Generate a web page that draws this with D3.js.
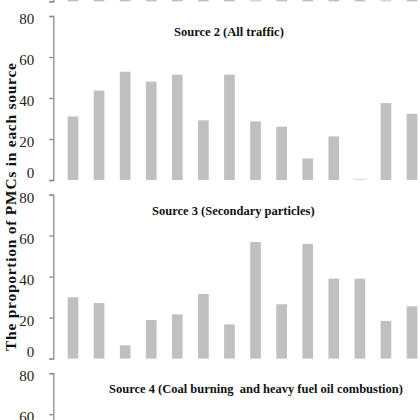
<!DOCTYPE html>
<html>
<head>
<meta charset="utf-8">
<script src="https://cdn.jsdelivr.net/npm/d3@7"></script>
<style>
  body { margin: 0; background: #fff; }
  svg { display: block; font-family: 'Liberation Serif', 'Times New Roman', serif; }
</style>
</head>
<body>
<div id="graf"></div>
<script>
// I. Data
sites = ['S1', 'S2', 'S3', 'S4', 'S5', 'S6', 'S7', 'S8', 'S9', 'S10', 'S11', 'S12', 'S13', 'S14']

// panel 1 is cut at the top of the picture, only the bar bases show
source1 = [20, 18, 22, 25, 15, 30, 24, 0.5, 28, 12, 26, 19, 0.5, 21]
source2 = [31, 43.6, 52.8, 48, 51.4, 29.1, 51.4, 28.6, 26, 10.5, 21.3, 0.3, 37.5, 32.3]
source3 = [29.9, 27.1, 6.5, 18.8, 21.6, 31.5, 16.7, 56.9, 26.5, 56, 39, 39, 18.4, 25.5]
// panel 4 is cut at the bottom, no bar reaches the visible part
source4 = []

yTicks = [0, 20, 40, 60, 80]
titles = ['', 'Source 2 (All traffic)', 'Source 3 (Secondary particles)',
          'Source 4 (Coal burning  and heavy fuel oil combustion)']
yTitle = 'The proportion of PMCs in each source'

// II. Configuración
ancho_total = 420
alto_total = 420
serif = "'Liberation Serif', 'Times New Roman', serif"
axisX = 53.3
panelH = 164
pitch = 178.6
firstTop = 16 - pitch
titleX = [0, 174, 152, 109]

svg = d3.select('#graf').append('svg')
        .attr('width', ancho_total)
        .attr('height', alto_total)

x = d3.scaleBand()
      .domain(sites)
      .range([axisX, 431.7])
      .paddingInner(0.59)
      .paddingOuter(0.55)

// III. Paneles
panels = [source1, source2, source3, source4]

panels.forEach((vals, i) => {
  const panelTop = firstTop + i * pitch
  const y = d3.scaleLinear().domain([0, 80]).range([panelTop + panelH, panelTop])

  const g = svg.append('g')

  g.selectAll('rect')
    .data(vals)
    .enter()
    .append('rect')
      .attr('x', (d, j) => x(sites[j]))
      .attr('width', x.bandwidth())
      .attr('y', d => y(d))
      .attr('height', d => y(0) - y(d))
      .attr('fill', '#c0c0c0')

  const yAxisCall = d3.axisLeft(y)
                .tickValues(yTicks)
                .tickSize(4)
                .tickPadding(15)
  const ax = g.append('g')
        .attr('transform', `translate(${axisX}, 0)`)
        .call(yAxisCall)
        .attr('font-family', serif)
        .attr('font-size', 15)
  ax.select('.domain').attr('stroke', '#8c8c8c').attr('stroke-width', 1.3)
  ax.selectAll('.tick line').attr('stroke', '#8c8c8c').attr('stroke-width', 1.3)
  ax.selectAll('.tick text')
    .attr('fill', '#222')
    .attr('dy', d => d === 0 ? '-0.15em' : '0.5em')

  g.append('text')
    .attr('x', titleX[i])
    .attr('y', panelTop + 20)
    .attr('font-family', serif)
    .attr('font-weight', 'bold')
    .attr('font-size', '12.5px')
    .attr('fill', '#111')
    .style('white-space', 'pre')
    .text(titles[i])
})

svg.append('text')
  .attr('transform', 'translate(16, 207) rotate(-90)')
  .attr('text-anchor', 'middle')
  .attr('font-family', serif)
  .attr('font-weight', 'bold')
  .attr('font-size', '15.5px')
  .attr('textLength', 288)
  .attr('lengthAdjust', 'spacing')
  .attr('fill', '#111')
  .text(yTitle)
</script>
</body>
</html>
